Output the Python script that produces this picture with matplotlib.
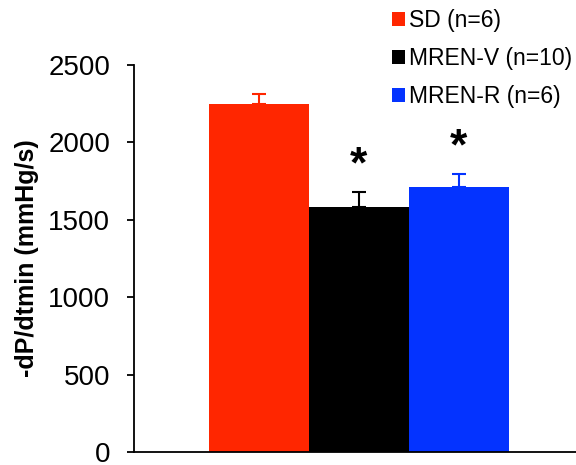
import matplotlib.pyplot as plt
from matplotlib.patches import Patch

plt.rcParams['font.family'] = ['Liberation Sans', 'DejaVu Sans']

groups = ['SD (n=6)', 'MREN-V (n=10)', 'MREN-R (n=6)']
means = [2250, 1580, 1711]
sems = [65, 97, 86]
colors = ['#FF2600', '#000000', '#0433FF']
significant = [False, True, True]

fig = plt.figure(figsize=(5.76, 4.65), dpi=100)
ax = fig.add_axes([0.2326, 0.028, 0.7674, 0.832])

x = range(len(groups))
for i in x:
    ax.bar(i, means[i], width=1.0, color=colors[i], edgecolor='none', zorder=2)
    ax.errorbar(i, means[i], yerr=[[0], [sems[i]]], fmt='none', ecolor=colors[i],
                elinewidth=1.5, capsize=5, capthick=1.5, zorder=3)
    if significant[i]:
        ax.text(i, means[i] + sems[i] + 170, '*', ha='center', va='center',
                fontsize=32, fontweight='bold')

ax.set_xlim(-1.245, 3.17)
ax.set_ylim(0, 2500)
ax.set_yticks([0, 500, 1000, 1500, 2000, 2500])
ax.set_xticks([])
ax.tick_params(axis='y', direction='out', length=5, width=1.3, labelsize=20, pad=12)
ax.spines['top'].set_visible(False)
ax.spines['right'].set_visible(False)
ax.spines['left'].set_linewidth(1.3)
ax.spines['bottom'].set_linewidth(1.3)
ax.set_ylabel('-dP/dtmin (mmHg/s)', fontsize=18, fontweight='bold', labelpad=7)

handles = [Patch(facecolor=c, edgecolor='none') for c in colors]
fig.legend(handles, groups, loc='upper left', bbox_to_anchor=(0.664, 1.0),
           frameon=False, fontsize=16.5, handlelength=0.6, handleheight=0.6,
           handletextpad=0.15, labelspacing=0.65, borderaxespad=0)

fig.savefig('out.png', dpi=100)
